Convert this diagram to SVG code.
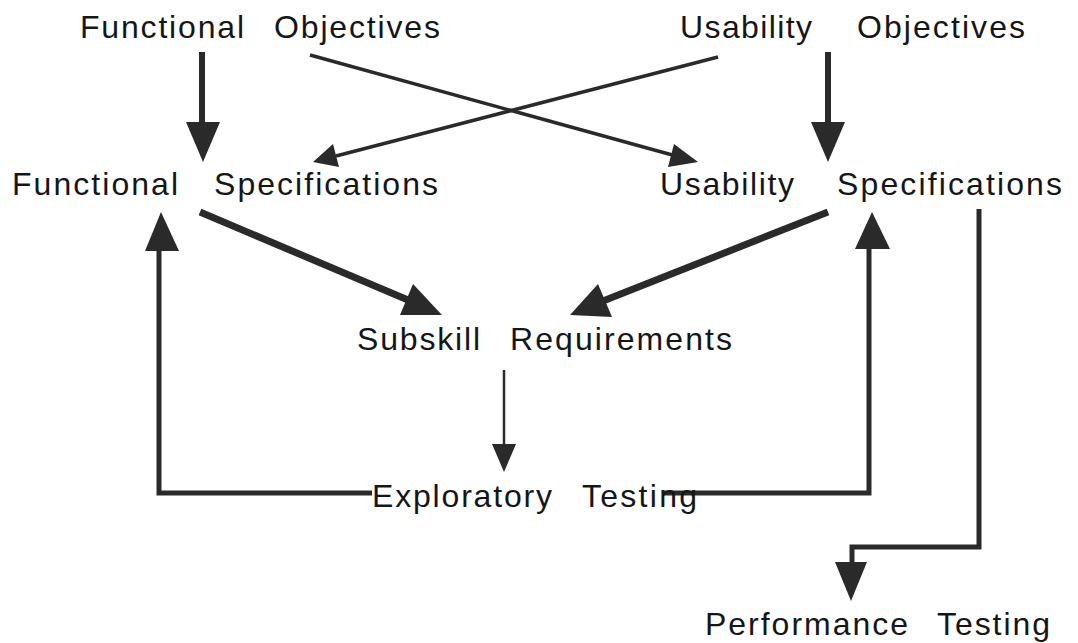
<svg xmlns="http://www.w3.org/2000/svg" width="1078" height="643" viewBox="0 0 1078 643">
<style>
text{font-family:"Liberation Sans",Arial,sans-serif;font-size:32px;fill:#161616}
.c{fill:none;stroke:#2a2a2a;stroke-linecap:butt;stroke-linejoin:miter}
.h{fill:#2a2a2a}
</style>
<rect width="1078" height="643" fill="#ffffff"/>
<g id="connectors">
<line class="c" x1="202" y1="52" x2="202" y2="124" stroke-width="6"/>
<polygon class="h" points="186,122 220,122 203,162"/>
<line class="c" x1="828" y1="52" x2="828" y2="124" stroke-width="6"/>
<polygon class="h" points="811,122 845,122 828,162"/>
<line class="c" x1="310" y1="55" x2="676" y2="156" stroke-width="3.5"/>
<polygon class="h" points="698,162 674,144 668,167"/>
<line class="c" x1="718" y1="57" x2="336" y2="156" stroke-width="3.5"/>
<polygon class="h" points="313,162 333,144 339,167"/>
<line class="c" x1="200" y1="212" x2="408" y2="300" stroke-width="7"/>
<polygon class="h" points="442,315 400,315 413,284"/>
<line class="c" x1="828" y1="212" x2="603" y2="301" stroke-width="7"/>
<polygon class="h" points="570,315 598,284 612,317"/>
<line class="c" x1="504" y1="370" x2="504" y2="447" stroke-width="2.5"/>
<polygon class="h" points="492,444 516,444 504,472"/>
<polyline class="c" points="372,493 159,493 159,249" stroke-width="5"/>
<polygon class="h" points="145,251 179,251 161,212"/>
<polyline class="c" points="664,493 869,493 869,247" stroke-width="5"/>
<polygon class="h" points="855,249 890,249 872,212"/>
<polyline class="c" points="979,209 979,547 852,547 852,564" stroke-width="5"/>
<polygon class="h" points="835,562 867,562 851,601"/>
</g>
<g id="functional-objectives"><text y="38"><tspan x="80" textLength="164" lengthAdjust="spacing">Functional</tspan><tspan x="274" textLength="166" lengthAdjust="spacing">Objectives</tspan></text></g>
<g id="usability-objectives"><text y="38"><tspan x="680" textLength="132" lengthAdjust="spacing">Usability</tspan><tspan x="857" textLength="168" lengthAdjust="spacing">Objectives</tspan></text></g>
<g id="functional-specifications"><text y="195"><tspan x="12" textLength="166" lengthAdjust="spacing">Functional</tspan><tspan x="214" textLength="224" lengthAdjust="spacing">Specifications</tspan></text></g>
<g id="usability-specifications"><text y="195"><tspan x="660" textLength="134" lengthAdjust="spacing">Usability</tspan><tspan x="837" textLength="225" lengthAdjust="spacing">Specifications</tspan></text></g>
<g id="subskill-requirements"><text y="350"><tspan x="357" textLength="123" lengthAdjust="spacing">Subskill</tspan><tspan x="510" textLength="222" lengthAdjust="spacing">Requirements</tspan></text></g>
<g id="exploratory-testing"><text y="507"><tspan x="372" textLength="180" lengthAdjust="spacing">Exploratory</tspan><tspan x="582" textLength="115" lengthAdjust="spacing">Testing</tspan></text></g>
<g id="performance-testing"><text y="635"><tspan x="705" textLength="203" lengthAdjust="spacing">Performance</tspan><tspan x="937" textLength="113" lengthAdjust="spacing">Testing</tspan></text></g>
</svg>
